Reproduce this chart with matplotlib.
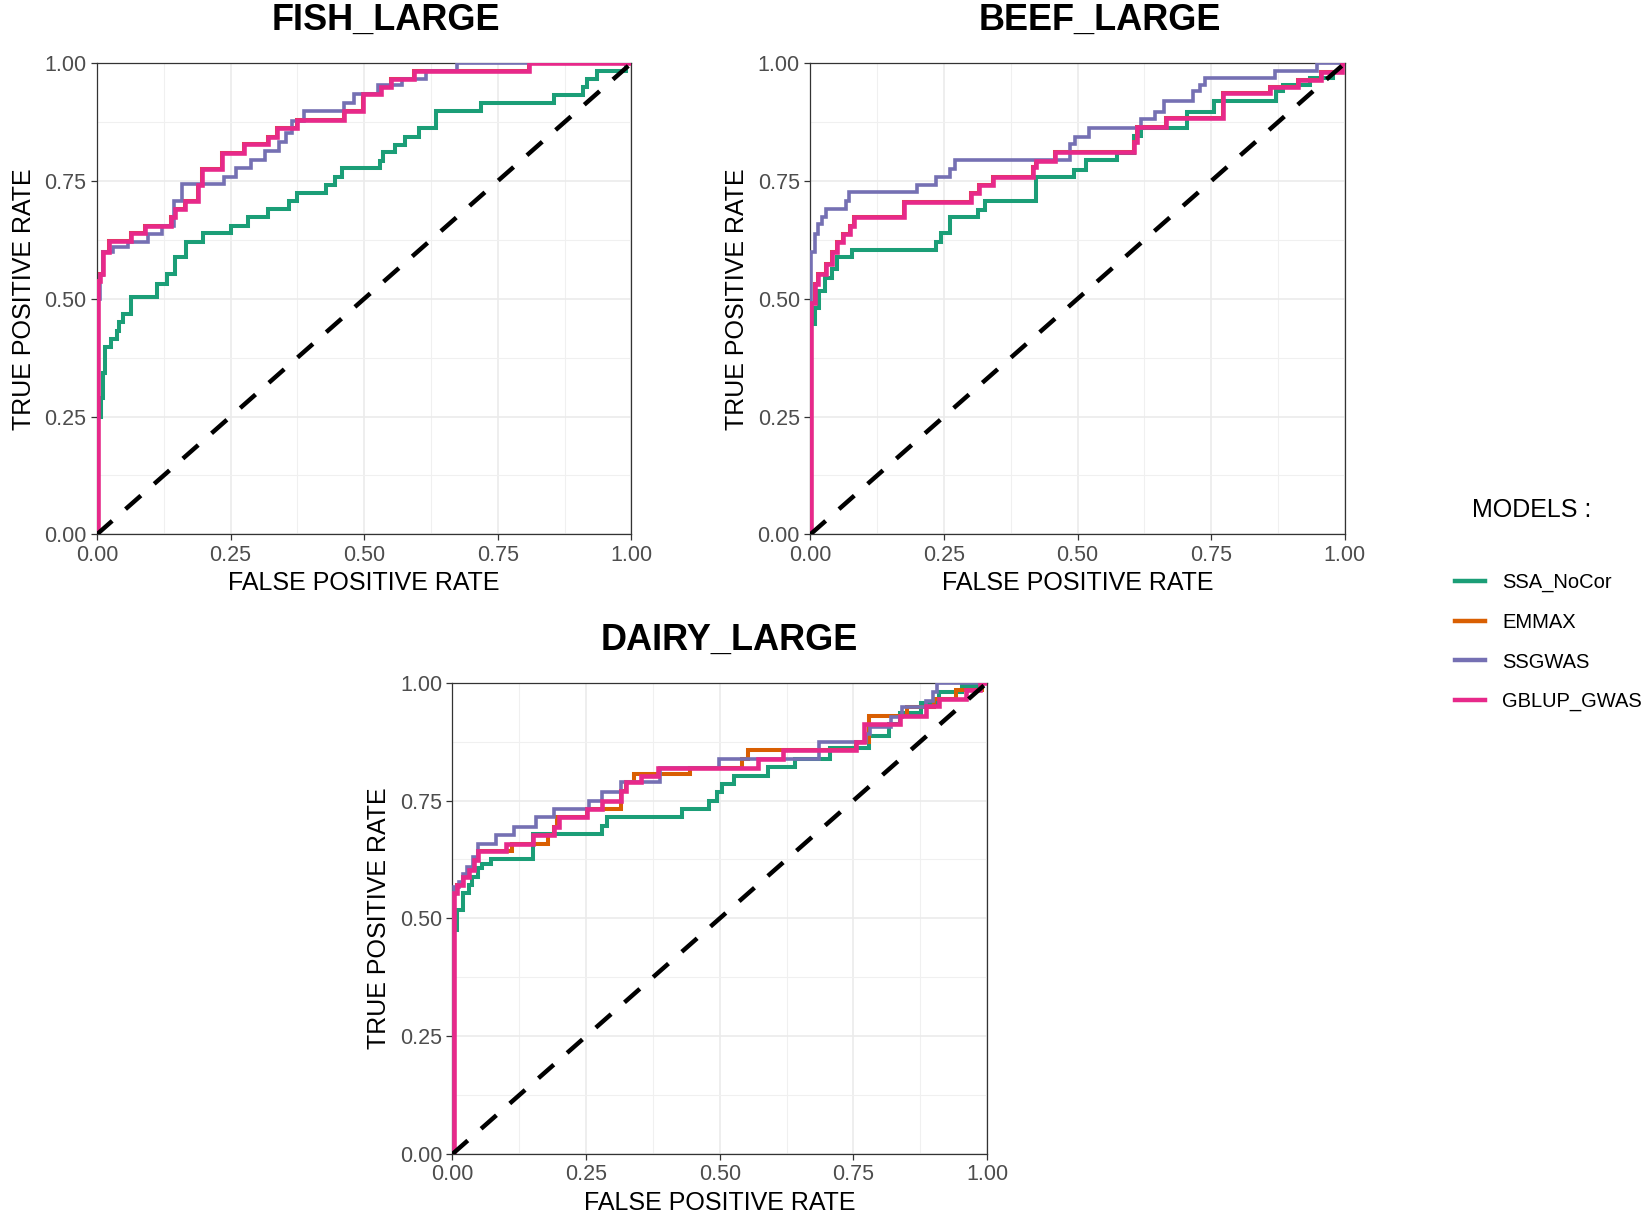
import numpy as np
import matplotlib
matplotlib.use("Agg")
import matplotlib.pyplot as plt
from matplotlib.lines import Line2D

plt.rcParams['font.family'] = ['Liberation Sans', 'DejaVu Sans']

models = ["SSA_NoCor", "EMMAX", "SSGWAS", "GBLUP_GWAS"]
model_colors = ["#1B9E77", "#D95F02", "#7570B3", "#E7298A"]
panel_titles = ["FISH_LARGE", "BEEF_LARGE", "DAIRY_LARGE"]
tick_values = [0.0, 0.25, 0.5, 0.75, 1.0]
tick_labels = ["0.00", "0.25", "0.50", "0.75", "1.00"]

# FISH_LARGE  (fpr where each step starts, tpr level held from there)
fish_ssa_fpr = [0, 0.003, 0.008, 0.012, 0.016, 0.026, 0.037, 0.042, 0.048, 0.064, 0.112, 0.131,
                0.147, 0.167, 0.199, 0.25, 0.282, 0.321, 0.359, 0.375, 0.429, 0.446, 0.458, 0.529,
                0.535, 0.558, 0.577, 0.603, 0.635, 0.718, 0.856, 0.91, 0.917, 0.936, 0.99]
fish_ssa_tpr = [0, 0.25, 0.29, 0.343, 0.397, 0.414, 0.432, 0.45, 0.467, 0.503, 0.531, 0.552,
                0.588, 0.62, 0.64, 0.655, 0.673, 0.69, 0.708, 0.724, 0.741, 0.758, 0.778, 0.793,
                0.811, 0.827, 0.844, 0.862, 0.898, 0.916, 0.933, 0.95, 0.967, 0.983, 1.0]
fish_ssgwas_fpr = [0, 0.003, 0.006, 0.012, 0.03, 0.059, 0.095, 0.122, 0.144, 0.16, 0.237, 0.26,
                   0.288, 0.314, 0.34, 0.353, 0.365, 0.388, 0.462, 0.481, 0.526, 0.571, 0.615, 0.673]
fish_ssgwas_tpr = [0, 0.50, 0.55, 0.60, 0.61, 0.62, 0.637, 0.654, 0.708, 0.744, 0.759, 0.778,
                   0.795, 0.814, 0.832, 0.851, 0.877, 0.898, 0.915, 0.935, 0.953, 0.967, 0.983, 1.0]
fish_gblup_fpr = [0, 0.003, 0.006, 0.012, 0.022, 0.064, 0.09, 0.138, 0.146, 0.165, 0.189, 0.196,
                  0.234, 0.276, 0.321, 0.337, 0.375, 0.462, 0.497, 0.532, 0.551, 0.593, 0.808]
fish_gblup_tpr = [0, 0.538, 0.552, 0.60, 0.623, 0.639, 0.655, 0.673, 0.69, 0.708, 0.741, 0.775,
                  0.81, 0.828, 0.844, 0.862, 0.88, 0.898, 0.935, 0.949, 0.967, 0.983, 1.0]
# EMMAX is hidden under GBLUP_GWAS in this panel
fish_emmax_fpr = fish_gblup_fpr
fish_emmax_tpr = fish_gblup_tpr

# BEEF_LARGE
beef_ssa_fpr = [0, 0.002, 0.008, 0.017, 0.027, 0.04, 0.049, 0.078, 0.236, 0.245, 0.262, 0.313,
                0.326, 0.422, 0.493, 0.515, 0.573, 0.605, 0.618, 0.705, 0.756, 0.872, 0.884,
                0.934, 0.978, 0.995]
beef_ssa_tpr = [0, 0.446, 0.48, 0.517, 0.545, 0.563, 0.588, 0.603, 0.62, 0.64, 0.673, 0.688,
                0.708, 0.758, 0.773, 0.795, 0.81, 0.846, 0.862, 0.897, 0.919, 0.94, 0.954,
                0.968, 0.982, 1.0]
beef_ssgwas_fpr = [0, 0.002, 0.008, 0.014, 0.021, 0.03, 0.066, 0.073, 0.2, 0.236, 0.262, 0.271,
                   0.486, 0.496, 0.522, 0.618, 0.644, 0.6625, 0.716, 0.728, 0.7375, 0.869, 0.947]
beef_ssgwas_tpr = [0, 0.60, 0.637, 0.658, 0.673, 0.69, 0.708, 0.726, 0.742, 0.759, 0.775, 0.795,
                   0.829, 0.843, 0.862, 0.882, 0.897, 0.919, 0.94, 0.954, 0.968, 0.984, 1.0]
beef_gblup_fpr = [0, 0.002, 0.008, 0.014, 0.03, 0.04, 0.049, 0.062, 0.075, 0.082, 0.175, 0.30,
                  0.316, 0.342, 0.416, 0.422, 0.458, 0.605, 0.612, 0.666, 0.772, 0.859, 0.9125,
                  0.956, 0.994]
beef_gblup_tpr = [0, 0.49, 0.531, 0.552, 0.574, 0.60, 0.62, 0.637, 0.655, 0.673, 0.705, 0.724,
                  0.741, 0.759, 0.779, 0.793, 0.811, 0.832, 0.865, 0.883, 0.936, 0.95, 0.965,
                  0.982, 1.0]
beef_emmax_fpr = beef_gblup_fpr
beef_emmax_tpr = beef_gblup_tpr

# DAIRY_LARGE
dairy_ssa_fpr = [0, 0.003, 0.009, 0.019, 0.031, 0.037, 0.047, 0.056, 0.072, 0.15, 0.28, 0.29,
                 0.43, 0.48, 0.495, 0.505, 0.527, 0.591, 0.641, 0.707, 0.78, 0.816, 0.838, 0.876,
                 0.91, 0.954, 0.99]
dairy_ssa_tpr = [0, 0.475, 0.518, 0.553, 0.57, 0.588, 0.606, 0.616, 0.627, 0.68, 0.697, 0.715,
                 0.732, 0.75, 0.768, 0.785, 0.803, 0.821, 0.839, 0.862, 0.888, 0.913, 0.935, 0.957,
                 0.98, 0.994, 1.0]
dairy_emmax_fpr = [0, 0.003, 0.009, 0.019, 0.031, 0.04, 0.047, 0.112, 0.178, 0.19, 0.196, 0.252,
                   0.315, 0.324, 0.34, 0.445, 0.541, 0.553, 0.754, 0.779, 0.85, 0.9, 0.942, 0.99]
dairy_emmax_tpr = [0, 0.553, 0.57, 0.588, 0.602, 0.623, 0.644, 0.658, 0.676, 0.694, 0.715, 0.732,
                   0.771, 0.789, 0.806, 0.82, 0.839, 0.857, 0.874, 0.93, 0.948, 0.966, 0.984, 1.0]
dairy_ssgwas_fpr = [0, 0.003, 0.012, 0.019, 0.028, 0.038, 0.047, 0.081, 0.115, 0.156, 0.19, 0.255,
                    0.28, 0.315, 0.389, 0.498, 0.685, 0.773, 0.782, 0.82, 0.841, 0.885, 0.898, 0.907]
dairy_ssgwas_tpr = [0, 0.567, 0.577, 0.595, 0.609, 0.63, 0.658, 0.676, 0.694, 0.715, 0.732, 0.75,
                    0.768, 0.789, 0.82, 0.838, 0.874, 0.892, 0.906, 0.927, 0.948, 0.962, 0.98, 1.0]
dairy_gblup_fpr = [0, 0.003, 0.009, 0.019, 0.031, 0.04, 0.047, 0.1, 0.15, 0.19, 0.2, 0.252, 0.28,
                   0.315, 0.324, 0.352, 0.385, 0.572, 0.619, 0.754, 0.769, 0.838, 0.885, 0.91,
                   0.96, 0.986]
dairy_gblup_tpr = [0, 0.553, 0.57, 0.588, 0.602, 0.623, 0.644, 0.658, 0.676, 0.694, 0.715, 0.732,
                   0.75, 0.771, 0.789, 0.803, 0.82, 0.839, 0.857, 0.874, 0.913, 0.93, 0.95, 0.966,
                   0.984, 1.0]

line_widths = [2.9, 2.9, 2.6, 3.3]


def draw_roc(ax, fpr, tpr, color, lw):
    # ROC step curve, always finished at (1, 1)
    x = np.append(fpr, 1.0)
    y = np.append(tpr, 1.0)
    ax.step(x, y, where='post', color=color, lw=lw, solid_joinstyle='miter', zorder=3)


def style_axes(ax, title_xy, title):
    ax.set_xlim(0, 1)
    ax.set_ylim(0, 1)
    ax.set_xticks(tick_values)
    ax.set_yticks(tick_values)
    ax.set_xticklabels(tick_labels)
    ax.set_yticklabels(tick_labels)
    minor = [0.125, 0.375, 0.625, 0.875]
    ax.set_xticks(minor, minor=True)
    ax.set_yticks(minor, minor=True)
    ax.grid(which='major', color='#EBEBEB', lw=1.2)
    ax.grid(which='minor', color='#F0F0F0', lw=0.8)
    ax.set_axisbelow(True)
    ax.tick_params(which='minor', length=0)
    ax.tick_params(which='major', length=4, width=0.9, color='#333333',
                   labelsize=15.5, labelcolor='#4D4D4D', pad=3.5)
    for s in ax.spines.values():
        s.set_color('#333333')
        s.set_linewidth(0.9)
    ax.set_xlabel('FALSE POSITIVE RATE', fontsize=18, labelpad=4)
    ax.set_ylabel('TRUE POSITIVE RATE', fontsize=18, labelpad=6)
    ax.figure.text(title_xy[0], title_xy[1], title, fontsize=26, fontweight='bold',
                   ha='center', va='baseline')


def main():
    fig = plt.figure(figsize=(16.5, 12.14), dpi=100)
    ax_fish = fig.add_axes([0.0587, 0.5598, 0.324, 0.3882])
    ax_beef = fig.add_axes([0.4911, 0.5598, 0.324, 0.3882])
    ax_dairy = fig.add_axes([0.2742, 0.0494, 0.324, 0.3882])

    panels = [
        (ax_fish, (0.234, 0.9757),
         [(fish_ssa_fpr, fish_ssa_tpr), (fish_emmax_fpr, fish_emmax_tpr),
          (fish_ssgwas_fpr, fish_ssgwas_tpr), (fish_gblup_fpr, fish_gblup_tpr)]),
        (ax_beef, (0.6665, 0.9757),
         [(beef_ssa_fpr, beef_ssa_tpr), (beef_emmax_fpr, beef_emmax_tpr),
          (beef_ssgwas_fpr, beef_ssgwas_tpr), (beef_gblup_fpr, beef_gblup_tpr)]),
        (ax_dairy, (0.442, 0.4645),
         [(dairy_ssa_fpr, dairy_ssa_tpr), (dairy_emmax_fpr, dairy_emmax_tpr),
          (dairy_ssgwas_fpr, dairy_ssgwas_tpr), (dairy_gblup_fpr, dairy_gblup_tpr)]),
    ]

    for (ax, txy, curves), title in zip(panels, panel_titles):
        for (fpr, tpr), col, lw in zip(curves, model_colors, line_widths):
            draw_roc(ax, fpr, tpr, col, lw)
        ax.plot([0, 1], [0, 1], color='black', lw=3.2, dashes=(4.6, 4.0), zorder=4)
        style_axes(ax, txy, title)

    # legend
    fig.text(0.928, 0.5797, 'MODELS :', fontsize=18, ha='center', va='center')
    handles = [Line2D([0], [0], color=c, lw=3.2) for c in model_colors]
    fig.legend(handles, models, loc='upper left', bbox_to_anchor=(0.877, 0.5345),
               frameon=False, fontsize=14.5, handlelength=1.5, handletextpad=0.85,
               labelspacing=1.02, borderaxespad=0)

    fig.savefig('out.png', dpi=100)


if __name__ == "__main__":
    main()
